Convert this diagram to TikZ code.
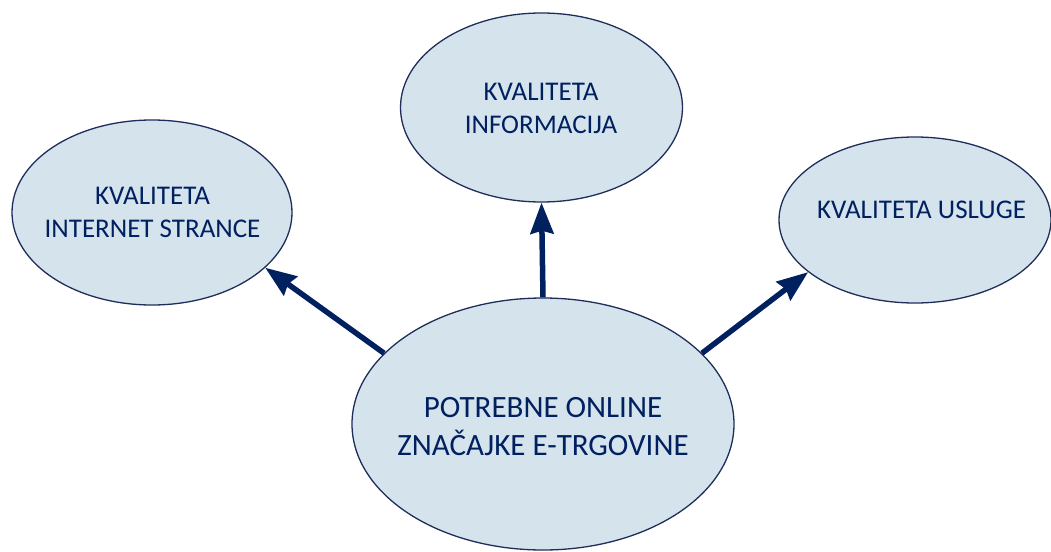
\documentclass[tikz,border=0pt]{standalone}
\usepackage{fontspec}
\setmainfont{Carlito}
\usetikzlibrary{shapes.geometric,arrows.meta}
\definecolor{navy}{RGB}{0,32,96}
\definecolor{edge}{RGB}{31,45,90}
\definecolor{fillc}{RGB}{213,227,237}
\tikzset{
  bubble/.style={ellipse, draw=edge, line width=1.3pt, fill=fillc, inner sep=0pt},
  lbl/.style={text=navy, align=center, inner sep=0pt},
  smalltxt/.style={font=\fontsize{27}{33}\selectfont},
  bigtxt/.style={font=\fontsize{31}{38}\selectfont},
  link/.style={draw=navy, line width=5.5pt, -{Stealth[length=31pt,width=23pt,inset=3pt]}}
}
\begin{document}
\begin{tikzpicture}[x=1pt,y=-1pt]
\useasboundingbox (0,0) rectangle (1051,551);
\node[bubble, minimum width=280pt, minimum height=185pt] (left) at (152,212.5) {};
\node[bubble, minimum width=282pt, minimum height=189pt] (top) at (541.5,107.5) {};
\node[bubble, minimum width=272pt, minimum height=166pt] (right) at (915,220) {};
\node[bubble, minimum width=382pt, minimum height=252pt] (bot) at (543,424) {};
\node[lbl, smalltxt] (tleft) at (152.5,212) {KVALITETA\\INTERNET STRANCE};
\node[lbl, smalltxt] (ttop) at (541,108) {KVALITETA\\INFORMACIJA};
\node[lbl, smalltxt] (tright) at (921.5,210) {KVALITETA USLUGE};
\node[lbl, bigtxt] (tbot) at (543,427) {POTREBNE ONLINE\\ZNAČAJKE E-TRGOVINE};
\draw[link] (bot.156) -- (left.-26.2);
\draw[link] (bot.north) -- (top.south);
\draw[link] (bot.24.5) -- (right.206.2);
\end{tikzpicture}
\end{document}
